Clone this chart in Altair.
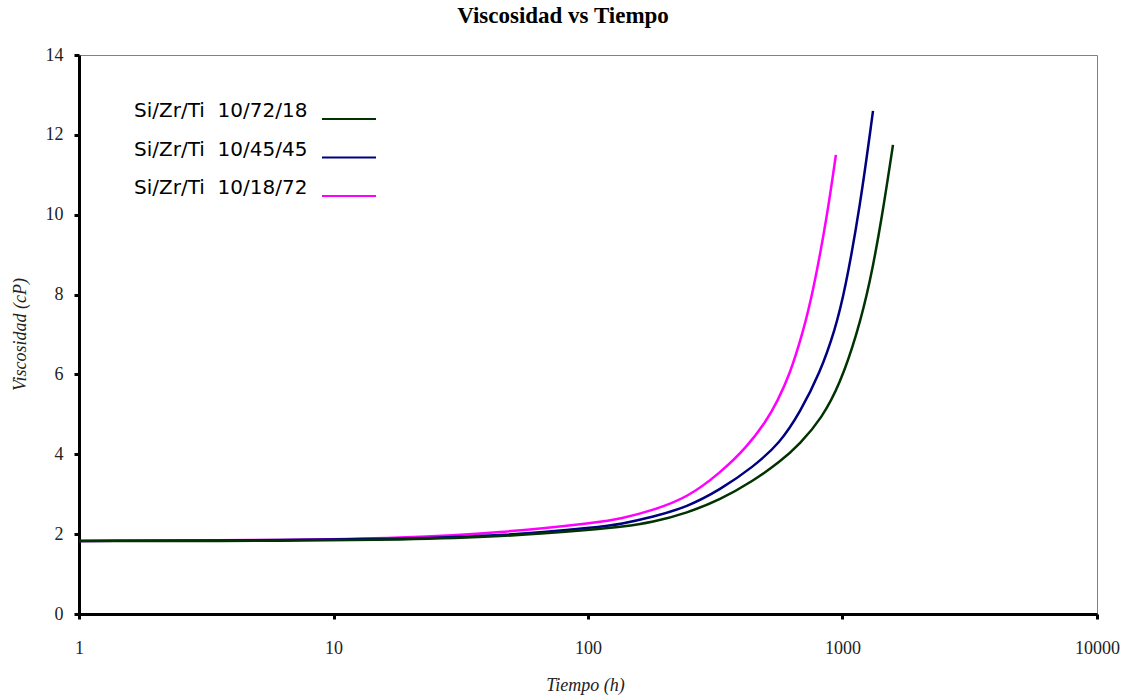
import altair as alt
import pandas as pd

NB = "\u00a0"
series = ["Si/Zr/Ti " + NB + "10/72/18", "Si/Zr/Ti " + NB + "10/45/45", "Si/Zr/Ti " + NB + "10/18/72"]
colors = ["#003300", "#000080", "#FF00FF"]

# Si/Zr/Ti 10/72/18
t_a = [1, 7.39, 18.2, 45.1, 111.5, 133.6, 180.1, 244.9, 330.2, 444.9, 568.1, 680.8, 830.8, 977.7, 1140.3, 1282.5, 1430, 1579]
v_a = [1.83, 1.83, 1.86, 1.93, 2.13, 2.18, 2.30, 2.53, 2.86, 3.33, 3.81, 4.26, 4.91, 5.76, 7.01, 8.29, 9.94, 11.75]
# Si/Zr/Ti 10/45/45
t_b = [1, 7.39, 18.2, 45.1, 111.5, 133.6, 180.1, 244.9, 330.2, 444.9, 568.1, 680.8, 815.9, 934.3, 1023, 1172, 1318]
v_b = [1.83, 1.85, 1.88, 1.95, 2.18, 2.25, 2.43, 2.68, 3.11, 3.68, 4.28, 5.05, 6.04, 7.11, 8.11, 10.19, 12.60]
# Si/Zr/Ti 10/18/72
t_c = [1, 7.39, 18.2, 45.1, 111.5, 133.6, 180.1, 244.9, 330.2, 421.5, 505, 552.8, 621.9, 699.5, 765.8, 869, 942]
v_c = [1.83, 1.85, 1.90, 2.03, 2.30, 2.38, 2.60, 2.91, 3.53, 4.18, 4.86, 5.31, 6.01, 7.06, 8.06, 9.94, 11.50]

x_ticks = [1, 10, 100, 1000, 10000]
y_ticks = [0, 2, 4, 6, 8, 10, 12, 14]

rows = []
for name, ts, vs in [(series[2], t_c, v_c), (series[1], t_b, v_b), (series[0], t_a, v_a)]:
    for i, (t, v) in enumerate(zip(ts, vs)):
        rows.append({"serie": name, "t": t, "v": v, "i": i})
df = pd.DataFrame(rows)

leg = pd.DataFrame({"serie": series, "idx": [0, 1, 2]})

color_scale = alt.Scale(domain=series, range=colors)
serif = "Liberation Serif"

lines = alt.Chart(df).mark_line(strokeWidth=2.5, interpolate="basis").encode(
    x=alt.X("t:Q", scale=alt.Scale(type="log", domain=[1, 10000], nice=False),
            axis=alt.Axis(values=x_ticks, format="d", title="Tiempo (h)",
                          titleX=506, titleY=71, titleBaseline="middle",
                          labelPadding=20, labelFlush=False)),
    y=alt.Y("v:Q", scale=alt.Scale(domain=[0, 14], nice=False),
            axis=alt.Axis(values=y_ticks, title="Viscosidad (cP)",
                          titleX=-59, titleY=279, titleAngle=270,
                          titleAlign="center", titleBaseline="middle",
                          labelPadding=11, labelFlush=False)),
    color=alt.Color("serie:N", scale=color_scale, legend=None),
    detail="serie:N",
    order="i:Q",
)

leg_y = alt.Scale(domain=[0, 2], range=[64, 141])
leg_text = alt.Chart(leg).mark_text(
    align="left", baseline="alphabetic", font="DejaVu Sans", fontSize=20,
    color="#000000", dy=-2,
).encode(
    x=alt.value(55),
    y=alt.Y("idx:Q", scale=leg_y, axis=None),
    text="serie:N",
)
leg_rule = alt.Chart(leg).mark_rule(strokeWidth=2).encode(
    x=alt.value(243),
    x2=alt.value(297),
    y=alt.Y("idx:Q", scale=leg_y, axis=None),
    color=alt.Color("serie:N", scale=color_scale, legend=None),
)

chart = alt.layer(lines, leg_rule, leg_text).resolve_scale(y="independent").properties(
    width=1018,
    height=559,
    autosize=alt.AutoSizeParams(type="none"),
    padding={"left": 79, "top": 55, "right": 28, "bottom": 84},
    title=alt.TitleParams("Viscosidad vs Tiempo", font=serif, fontSize=23,
                          fontWeight="bold", anchor="middle", dx=-25,
                          offset=18, color="#000000"),
).configure_view(
    stroke="#808080", strokeWidth=1
).configure_axis(
    grid=False,
    domainColor="#000000", domainWidth=3,
    tickColor="#000000", tickWidth=3, tickSize=5,
    labelFont=serif, labelFontSize=18, labelColor="#222222",
    titleFont=serif, titleFontSize=18, titleFontStyle="italic",
    titleFontWeight="normal", titleColor="#222222",
)

chart.save("out.html", embed_options={"renderer": "svg", "actions": False})
